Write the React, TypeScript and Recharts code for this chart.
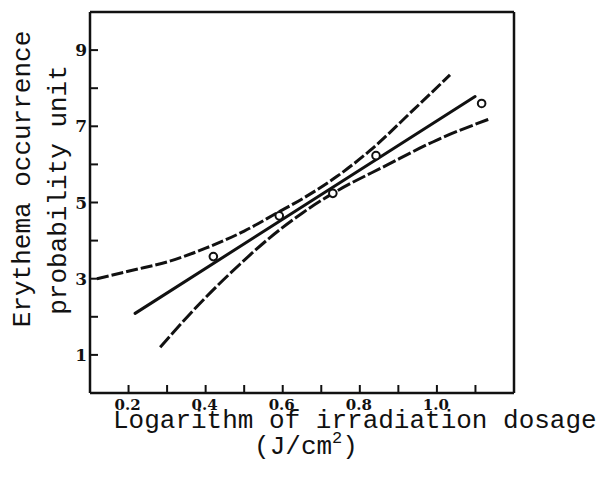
import { ComposedChart, Line, XAxis, YAxis } from 'recharts'

// x ticks every 0.1, labels every 0.2
const xTicks = [0.2, 0.3, 0.4, 0.5, 0.6, 0.7, 0.8, 0.9, 1.0, 1.1]
const xLabelTicks = [0.2, 0.4, 0.6, 0.8, 1.0]
const yTicks = [1, 2, 3, 4, 5, 6, 7, 8, 9]
const yLabelTicks = [1, 3, 5, 7, 9]

// observed points (log dose, probit)
const observed = [
  { x: 0.42, y: 3.58 },
  { x: 0.591, y: 4.65 },
  { x: 0.73, y: 5.24 },
  { x: 0.842, y: 6.23 },
  { x: 1.116, y: 7.6 },
]

// fitted regression line
const fitted = [
  { x: 0.217, y: 2.09 },
  { x: 1.099, y: 7.78 },
]

// upper confidence bound
const upperBound = [
  { x: 0.118, y: 3.0 },
  { x: 0.21, y: 3.22 },
  { x: 0.3, y: 3.44 },
  { x: 0.4, y: 3.8 },
  { x: 0.5, y: 4.25 },
  { x: 0.584, y: 4.72 },
  { x: 0.653, y: 5.11 },
  { x: 0.74, y: 5.68 },
  { x: 0.826, y: 6.36 },
  { x: 0.939, y: 7.43 },
  { x: 1.034, y: 8.35 },
]

// lower confidence bound
const lowerBound = [
  { x: 0.282, y: 1.2 },
  { x: 0.385, y: 2.35 },
  { x: 0.489, y: 3.38 },
  { x: 0.567, y: 4.08 },
  { x: 0.653, y: 4.74 },
  { x: 0.73, y: 5.24 },
  { x: 0.87, y: 5.98 },
  { x: 1.0, y: 6.64 },
  { x: 1.133, y: 7.18 },
]

const INK = '#111'
const TICK_FONT = '"DejaVu Serif", serif'
const TITLE_FONT = '"Liberation Mono", monospace'
const TICK_LEN = 8

const W = 599
const H = 469
// plot frame inside the svg
const FRAME = { left: 82, right: 506, top: 4, bottom: 385 }

const has = (list: number[], v: number) => list.some((t) => Math.abs(t - v) < 1e-6)

const BottomTick = (props: any) => {
  const { x, payload } = props
  const y = FRAME.bottom
  return (
    <g>
      <line x1={x} x2={x} y1={y} y2={y - TICK_LEN} stroke={INK} strokeWidth={2} />
      {has(xLabelTicks, payload.value) && (
        <text x={x - 1} y={y + 17} textAnchor="middle" fontFamily={TICK_FONT} fontWeight="bold" fontSize={15} fill={INK}>
          {payload.value.toFixed(1)}
        </text>
      )}
    </g>
  )
}

const TopTick = (props: any) => {
  const { x } = props
  const y = FRAME.top
  return <line x1={x} x2={x} y1={y} y2={y + TICK_LEN} stroke={INK} strokeWidth={2} />
}

const LeftTick = (props: any) => {
  const { y, payload } = props
  const x = FRAME.left
  return (
    <g>
      <line x1={x} x2={x + TICK_LEN} y1={y} y2={y} stroke={INK} strokeWidth={2} />
      {has(yLabelTicks, payload.value) && (
        <text x={x - 3} y={y} dy="0.36em" textAnchor="end" fontFamily={TICK_FONT} fontWeight="bold" fontSize={17} fill={INK}>
          {payload.value}
        </text>
      )}
    </g>
  )
}

const RightTick = (props: any) => {
  const { y } = props
  const x = FRAME.right
  return <line x1={x} x2={x - TICK_LEN} y1={y} y2={y} stroke={INK} strokeWidth={2} />
}

const axisLine = { stroke: INK, strokeWidth: 2.5 }

export default function App() {
  return (
    <div style={{ position: 'relative', width: W, height: H }}>
      <ComposedChart
        width={W}
        height={H}
        margin={{
          top: FRAME.top - 1,
          right: W - FRAME.right - 1,
          bottom: H - FRAME.bottom - 1,
          left: FRAME.left - 1,
        }}
      >
        <XAxis
          xAxisId="b"
          dataKey="x"
          type="number"
          domain={[0.1, 1.2]}
          ticks={xTicks}
          interval={0}
          height={1}
          tickSize={0}
          tickMargin={0}
          tickLine={false}
          axisLine={axisLine}
          tick={<BottomTick />}
        />
        <XAxis
          xAxisId="t"
          orientation="top"
          dataKey="x"
          type="number"
          domain={[0.1, 1.2]}
          ticks={xTicks}
          interval={0}
          height={1}
          tickSize={0}
          tickMargin={0}
          tickLine={false}
          axisLine={axisLine}
          tick={<TopTick />}
        />
        <YAxis
          yAxisId="l"
          type="number"
          domain={[0, 10]}
          ticks={yTicks}
          interval={0}
          width={1}
          tickSize={0}
          tickMargin={0}
          tickLine={false}
          axisLine={axisLine}
          tick={<LeftTick />}
        />
        <YAxis
          yAxisId="r"
          orientation="right"
          type="number"
          domain={[0, 10]}
          ticks={yTicks}
          interval={0}
          width={1}
          tickSize={0}
          tickMargin={0}
          tickLine={false}
          axisLine={axisLine}
          tick={<RightTick />}
        />
        <Line
          xAxisId="b"
          yAxisId="l"
          data={upperBound}
          dataKey="y"
          type="monotone"
          stroke={INK}
          strokeWidth={3}
          strokeDasharray="12 3"
          dot={false}
          isAnimationActive={false}
        />
        <Line
          xAxisId="b"
          yAxisId="l"
          data={lowerBound}
          dataKey="y"
          type="monotone"
          stroke={INK}
          strokeWidth={3}
          strokeDasharray="14 3"
          dot={false}
          isAnimationActive={false}
        />
        <Line
          xAxisId="b"
          yAxisId="l"
          data={fitted}
          dataKey="y"
          type="linear"
          stroke={INK}
          strokeWidth={3}
          strokeLinecap="round"
          dot={false}
          isAnimationActive={false}
        />
        <Line
          xAxisId="b"
          yAxisId="l"
          data={observed}
          dataKey="y"
          stroke="none"
          dot={{ r: 3.8, stroke: INK, strokeWidth: 2, fill: '#fff' }}
          isAnimationActive={false}
        />
      </ComposedChart>
      <svg
        width={W}
        height={H}
        style={{ position: 'absolute', left: 0, top: 0, pointerEvents: 'none' }}
      >
        <g fontFamily={TITLE_FONT} fontSize={26} fill={INK}>
          <text x={105} y={420}>Logarithm of irradiation dosage</text>
          <text x={298} y={446} textAnchor="middle">
            (J/cm<tspan fontSize={17} dy={-11}>2</tspan>
            <tspan dy={11}>)</tspan>
          </text>
          <text x={22} y={171} textAnchor="middle" transform="rotate(-90 22 171)">
            Erythema occurrence
          </text>
          <text x={58} y={182} textAnchor="middle" transform="rotate(-90 58 182)">
            probability unit
          </text>
        </g>
      </svg>
    </div>
  )
}
